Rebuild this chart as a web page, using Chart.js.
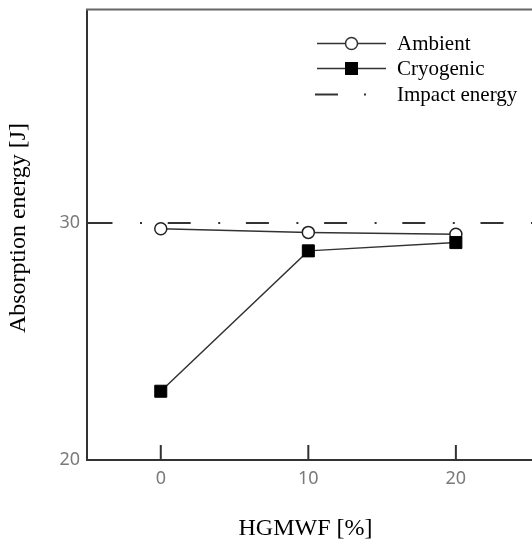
<!DOCTYPE html>
<html>
<head>
<meta charset="utf-8">
<script src="https://cdn.jsdelivr.net/npm/chart.js@4.4.0/dist/chart.umd.min.js"></script>
<style>
  html, body { margin: 0; padding: 0; background: #fff; overflow: hidden; }
  #wrap { width: 548px; height: 540px; }
</style>
</head>
<body>
<div id="wrap"><canvas id="myChart" width="548" height="540"></canvas></div>
<script>
// data
var hgmwf = [0, 10, 20];
var ambient = [29.75, 29.6, 29.52];
var cryogenic = [22.9, 28.82, 29.17];
var impactEnergy = 30;
var xTicks = [0, 10, 20];
var yTicks = [20, 30];
var xTitle = "HGMWF [%]";
var yTitle = "Absorption energy [J]";

var xMin = -5, xMax = 25.6;
var yMin = 20, yMax = 39;

var lineColor = "#333";
var tickFont = { family: "'Noto Sans', sans-serif", size: 18 };
var serif = "'Liberation Serif', 'Times New Roman', serif";

function pts(xs, ys) {
  return xs.map(function (x, i) { return { x: x, y: ys[i] }; });
}

// inside ticks, top frame line, axis titles and the legend
var decorations = {
  id: "decorations",
  afterDraw: function (chart) {
    var c = chart.ctx, a = chart.chartArea;
    var xs = chart.scales.x, ys = chart.scales.y;
    c.save();
    c.strokeStyle = lineColor;
    c.lineWidth = 2;
    c.beginPath();
    xTicks.forEach(function (v) {
      var px = xs.getPixelForValue(v);
      c.moveTo(px, a.bottom);
      c.lineTo(px, a.bottom - 15);
    });
    yTicks.forEach(function (v) {
      var py = ys.getPixelForValue(v);
      c.moveTo(a.left, py);
      c.lineTo(a.left + 24, py);
    });
    c.stroke();

    // top frame
    c.strokeStyle = "#666";
    c.beginPath();
    c.moveTo(a.left - 1, a.top);
    c.lineTo(chart.width, a.top);
    c.stroke();

    // axis titles
    c.fillStyle = "#000";
    c.font = "24px " + serif;
    c.textAlign = "center";
    c.textBaseline = "alphabetic";
    c.fillText(xTitle, 305.5, 535);
    c.save();
    c.translate(19, 228);
    c.rotate(-Math.PI / 2);
    c.textBaseline = "middle";
    c.fillText(yTitle, 0, 0);
    c.restore();

    // legend
    var lx0 = a.left + 230, lx1 = a.left + 299, lmid = (lx0 + lx1) / 2;
    var tx = a.left + 310;
    var rows = [a.top + 34, a.top + 59, a.top + 85];
    c.font = "21px " + serif;
    c.textAlign = "left";
    c.textBaseline = "alphabetic";
    c.lineWidth = 1.5;
    c.strokeStyle = lineColor;
    // Ambient
    c.beginPath(); c.moveTo(lx0, rows[0]); c.lineTo(lx1, rows[0]); c.stroke();
    c.beginPath(); c.arc(lmid, rows[0], 6, 0, Math.PI * 2);
    c.fillStyle = "#fff"; c.fill(); c.stroke();
    // Cryogenic
    c.beginPath(); c.moveTo(lx0, rows[1]); c.lineTo(lx1, rows[1]); c.stroke();
    c.fillStyle = "#000";
    c.fillRect(lmid - 6.5, rows[1] - 6.5, 13, 13);
    // Impact energy
    c.lineWidth = 2;
    c.beginPath(); c.moveTo(lx0 - 2, rows[2]); c.lineTo(lx0 + 21, rows[2]); c.stroke();
    c.beginPath(); c.moveTo(lx0 + 47, rows[2]); c.lineTo(lx0 + 49, rows[2]); c.stroke();
    c.fillStyle = "#000";
    c.fillText("Ambient", tx, rows[0] + 6);
    c.fillText("Cryogenic", tx, rows[1] + 6);
    c.fillText("Impact energy", tx, rows[2] + 6);
    c.restore();
  },
};

var ctx = document.getElementById("myChart").getContext("2d");
var myChart = new Chart(ctx, {
  type: "line",
  data: {
    datasets: [
      {
        label: "Ambient",
        data: pts(hgmwf, ambient),
        borderColor: lineColor,
        borderWidth: 1.5,
        pointStyle: "circle",
        pointRadius: 6,
        pointBackgroundColor: "#fff",
        pointBorderColor: "#222",
        pointBorderWidth: 1.5,
        order: 1,
      },
      {
        label: "Cryogenic",
        data: pts(hgmwf, cryogenic),
        borderColor: lineColor,
        borderWidth: 1.5,
        pointStyle: "rect",
        pointRadius: 8.5,
        pointBackgroundColor: "#000",
        pointBorderColor: "#000",
        pointBorderWidth: 1,
        order: 0,
      },
      {
        label: "Impact energy",
        data: [{ x: xMin, y: impactEnergy }, { x: xMax, y: impactEnergy }],
        borderColor: lineColor,
        borderWidth: 2,
        borderDash: [23, 27.5, 2, 25.7],
        borderDashOffset: -2.5,
        pointRadius: 0,
        order: 2,
      },
    ],
  },
  options: {
    responsive: false,
    animation: false,
    layout: { padding: { top: 8, right: 4, left: 0, bottom: 0 } },
    plugins: { legend: { display: false }, tooltip: { enabled: false } },
    scales: {
      x: {
        type: "linear",
        min: xMin,
        max: xMax,
        afterBuildTicks: function (s) { s.ticks = xTicks.map(function (v) { return { value: v }; }); },
        afterFit: function (s) { s.height = 80; s.paddingLeft = 0; s.paddingRight = 0; },
        grid: { drawOnChartArea: false, drawTicks: false },
        border: { display: true, color: lineColor, width: 2 },
        ticks: { color: "#7a7a7a", font: tickFont, padding: 8, maxRotation: 0 },
      },
      y: {
        type: "linear",
        min: yMin,
        max: yMax,
        afterBuildTicks: function (s) { s.ticks = yTicks.map(function (v) { return { value: v }; }); },
        afterFit: function (s) { s.width = 87; s.paddingTop = 0; s.paddingBottom = 0; },
        grid: { drawOnChartArea: false, drawTicks: false },
        border: { display: true, color: lineColor, width: 2 },
        ticks: { color: "#7a7a7a", font: tickFont, padding: 7 },
      },
    },
  },
  plugins: [decorations],
});
</script>
</body>
</html>
